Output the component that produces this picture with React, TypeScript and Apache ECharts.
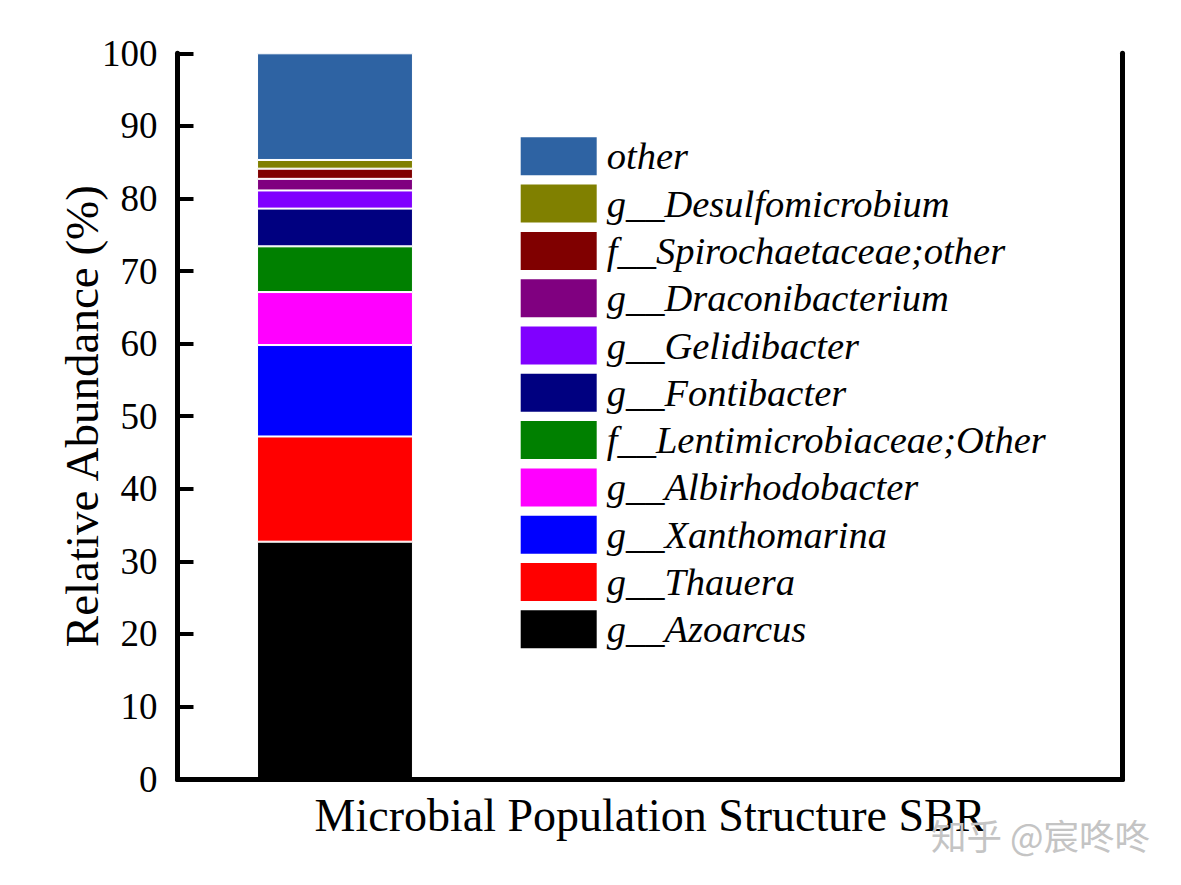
import React, { useEffect, useRef } from "react";
import * as echarts from "echarts";

const categories = ["SBR", "", ""];
const taxa = [
  "g__Azoarcus",
  "g__Thauera",
  "g__Xanthomarina",
  "g__Albirhodobacter",
  "f__Lentimicrobiaceae;Other",
  "g__Fontibacter",
  "g__Gelidibacter",
  "g__Draconibacterium",
  "f__Spirochaetaceae;other",
  "g__Desulfomicrobium",
  "other",
];
const abundance = [32.7, 14.5, 12.6, 7.3, 6.3, 5.2, 2.5, 1.6, 1.4, 1.2, 14.7];
const colors = [
  "#000000",
  "#FF0000",
  "#0000FF",
  "#FF00FF",
  "#008000",
  "#000080",
  "#8000FF",
  "#800080",
  "#800000",
  "#808000",
  "#2E63A3",
];
const yTicks = [0, 100, 10];

const SERIF = "Liberation Serif";

export default function App() {
  const ref = useRef<HTMLDivElement>(null);
  useEffect(() => {
    if (!ref.current) return;
    const chart = echarts.init(ref.current, null, { renderer: "svg" });
    const series = taxa.map((name, i) => ({
      name,
      type: "bar",
      stack: "total",
      barWidth: "49.5%",
      itemStyle: { color: colors[i], borderColor: "#fff", borderWidth: 1 },
      data: [abundance[i], null, null],
    }));
    chart.setOption({
      animation: false,
      backgroundColor: "#fff",
      grid: { left: 177.5, right: 58.5, top: 53.3, bottom: 106, containLabel: false },
      legend: {
        orient: "vertical",
        left: 520.7,
        top: 136.8,
        padding: 0,
        itemWidth: 76,
        itemHeight: 38,
        itemGap: 8.3,
        icon: "rect",
        itemStyle: { borderWidth: 0 },
        data: taxa.slice().reverse(),
        textStyle: {
          fontFamily: SERIF,
          fontStyle: "italic",
          fontSize: 38.5,
          lineHeight: 36,
          color: "#000",
          padding: [0, 0, 0, 5],
        },
      },
      xAxis: [
        {
          type: "category",
          data: categories,
          position: "bottom",
          z: 10,
          axisLine: { show: true, lineStyle: { color: "#000", width: 5 } },
          axisTick: { show: false },
          axisLabel: { show: false },
          name: "Microbial Population Structure SBR",
          nameLocation: "middle",
          nameGap: 13,
          nameMoveOverlap: false,
          nameTextStyle: { fontFamily: SERIF, fontSize: 46, color: "#000", verticalAlign: "top" },
        },
        {
          type: "category",
          data: categories,
          position: "top",
          z: 10,
          axisLine: { show: true, lineStyle: { color: "#000", width: 5 } },
          axisTick: { show: false },
          axisLabel: { show: false },
        },
      ],
      yAxis: [
        {
          type: "value",
          min: yTicks[0],
          max: yTicks[1],
          interval: yTicks[2],
          position: "left",
          z: 10,
          axisLine: { show: true, lineStyle: { color: "#000", width: 5 } },
          axisTick: { show: true, inside: true, length: 16, lineStyle: { color: "#000", width: 4 } },
          splitLine: { show: false },
          axisLabel: { fontFamily: SERIF, fontSize: 37, color: "#000", margin: 20 },
          name: "Relative Abundance (%)",
          nameLocation: "middle",
          nameGap: 72,
          nameMoveOverlap: false,
          nameTextStyle: { fontFamily: SERIF, fontSize: 47, color: "#000" },
        },
        {
          type: "value",
          min: yTicks[0],
          max: yTicks[1],
          interval: yTicks[2],
          position: "right",
          z: 10,
          axisLine: { show: true, lineStyle: { color: "#000", width: 5 } },
          axisTick: { show: false },
          splitLine: { show: false },
          axisLabel: { show: false },
        },
      ],
      graphic: [
        {
          type: "text",
          left: 931,
          top: 817,
          z: 100,
          style: {
            text: "知乎 @宸咚咚",
            fill: "#c4c4c4",
            font: '35.5px "Noto Sans CJK SC"',
            shadowColor: "rgba(0,0,0,0.35)",
            shadowBlur: 1,
            shadowOffsetX: 1,
            shadowOffsetY: 1,
          },
        },
      ],
      series,
    });
    return () => chart.dispose();
  }, []);
  return (
    <div
      ref={ref}
      style={{ position: "absolute", left: 0, top: 0, width: 1181, height: 885 }}
    />
  );
}
